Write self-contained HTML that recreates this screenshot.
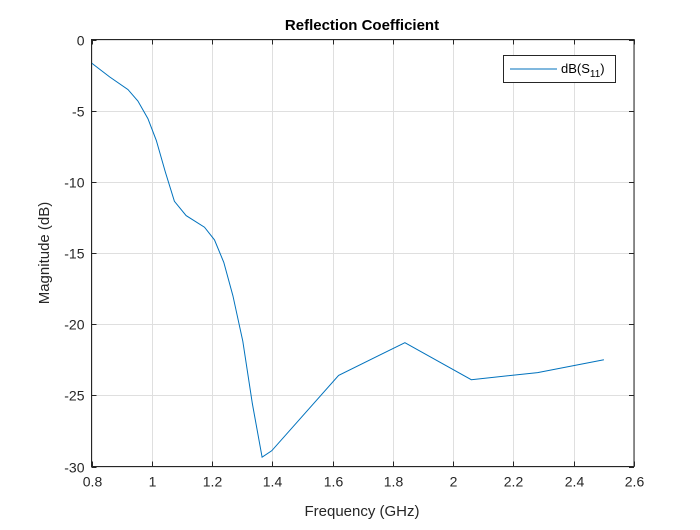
<!DOCTYPE html>
<html><head><meta charset="utf-8"><style>
body{margin:0;background:#fff;}
svg text{font-family:"Liberation Sans",Arial,sans-serif;fill:#262626;}
</style></head><body>
<svg id="chart" width="700" height="525" xmlns="http://www.w3.org/2000/svg">
<rect width="700" height="525" fill="#fff"/>
<g id="grid"></g>
<polyline id="line" fill="none" stroke="#0072BD" stroke-width="1"/>
<rect x="91.5" y="39.5" width="542.5" height="427" fill="none" stroke="#262626" stroke-width="1"/>
<g id="ticks"></g>
<text x="362" y="30" text-anchor="middle" font-size="15" font-weight="bold" style="fill:#000">Reflection Coefficient</text>
<text x="362" y="516" text-anchor="middle" font-size="15">Frequency (GHz)</text>
<text transform="translate(49,253) rotate(-90)" text-anchor="middle" font-size="15">Magnitude (dB)</text>
<g>
<rect x="503.5" y="55.5" width="112" height="27" fill="#fff" stroke="#262626" stroke-width="1"/>
<line x1="510" y1="69" x2="557" y2="69" stroke="#0072BD"/>
<text x="561" y="73" font-size="13" style="fill:#000">dB(S<tspan font-size="10" dy="4">11</tspan><tspan dy="-4">)</tspan></text>
</g>
</svg>
<script>
const freqs=[0.8,0.86,0.921,0.954,0.987,1.015,1.045,1.075,1.114,1.175,1.208,1.239,1.269,1.302,1.334,1.366,1.398,1.62,1.84,2.06,2.28,2.5];
const magDb=[-1.65,-2.63,-3.52,-4.32,-5.56,-7.09,-9.3,-11.37,-12.37,-13.19,-14.08,-15.66,-18.0,-21.2,-25.6,-29.35,-28.9,-23.6,-21.3,-23.9,-23.4,-22.5];
const xTicks=[0.8,1,1.2,1.4,1.6,1.8,2,2.2,2.4,2.6];
const yTicks=[0,-5,-10,-15,-20,-25,-30];
const X0=91.5,X1=634,Y0=39.5,Y1=466.5;
const xs=v=>X0+(v-0.8)/1.8*(X1-X0);
const ys=v=>Y0+(0-v)/30*(Y1-Y0);
const NS="http://www.w3.org/2000/svg";
const grid=document.getElementById('grid'),ticks=document.getElementById('ticks');
function mk(tag,attrs,parent){const e=document.createElementNS(NS,tag);for(const k in attrs)e.setAttribute(k,attrs[k]);parent.appendChild(e);return e;}
xTicks.forEach(t=>{const x=Math.round(xs(t))+0.5;
 const g=mk('line',{x1:x,x2:x,y1:Y0,y2:Y1,stroke:'#dfdfdf'},grid);
 
 
 const tk=mk('line',{x1:x,x2:x,y1:Y1,y2:Y1-5,stroke:'#262626'},ticks);
 
 
 const tk2=mk('line',{x1:x,x2:x,y1:Y0,y2:Y0+5,stroke:'#262626'},ticks);
 
 
 const l=mk('text',{x:x,y:Y1+20,'text-anchor':'middle','font-size':'14'},ticks);
 l.textContent=String(t);
 
 
});
yTicks.forEach(t=>{const y=Math.round(ys(t))+0.5;
 const g=mk('line',{x1:X0,x2:X1,y1:y,y2:y,stroke:'#dfdfdf'},grid);
 
 
 const tk=mk('line',{x1:X0,x2:X0+5,y1:y,y2:y,stroke:'#262626'},ticks);
 
 
 const tk2=mk('line',{x1:X1,x2:X1-5,y1:y,y2:y,stroke:'#262626'},ticks);
 
 
 const l=mk('text',{x:X0-7,y:y+5,'text-anchor':'end','font-size':'14'},ticks);
 l.textContent=String(t);
 
 
});
document.getElementById('line').setAttribute('points',freqs.map((f,i)=>xs(f).toFixed(1)+','+ys(magDb[i]).toFixed(1)).join(' '));
</script>
</body></html>
